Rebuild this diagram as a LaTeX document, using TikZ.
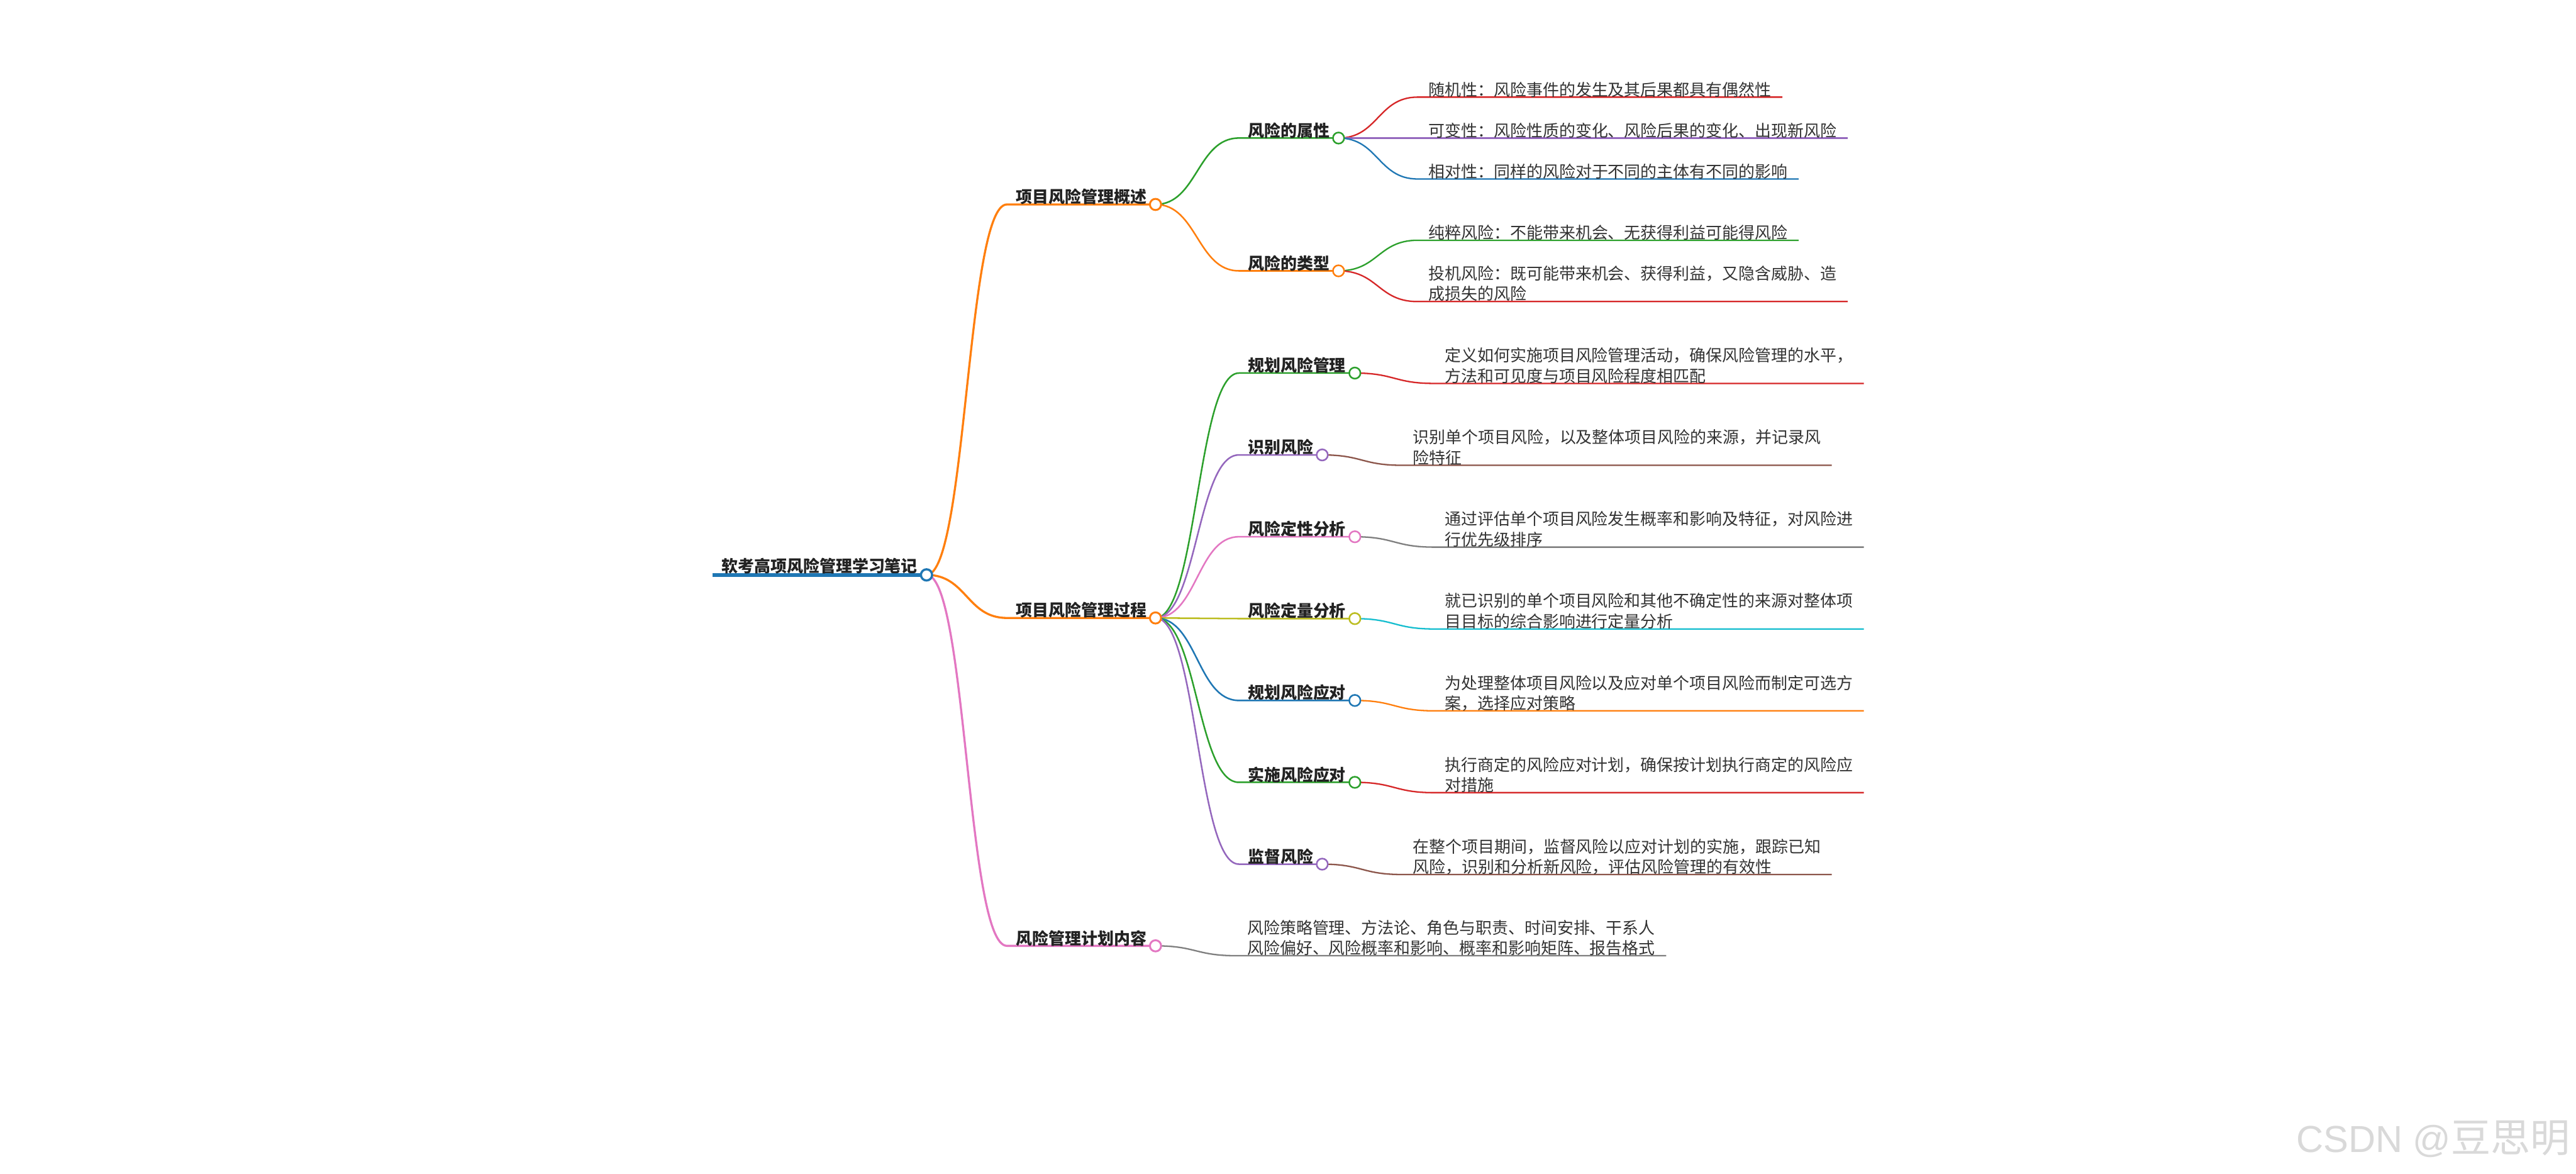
\documentclass[tikz,border=0pt]{standalone}
\usepackage{fontspec}
\setmainfont{Noto Sans CJK SC}
\newfontfamily\wmlat{Liberation Sans}
\usetikzlibrary{calc,backgrounds}
\definecolor{cBlue}{HTML}{1F77B4}
\definecolor{cOrange}{HTML}{FF7F0E}
\definecolor{cGreen}{HTML}{2CA02C}
\definecolor{cRed}{HTML}{D62728}
\definecolor{cPurple}{HTML}{9467BD}
\definecolor{cBrown}{HTML}{8C564B}
\definecolor{cPink}{HTML}{E377C2}
\definecolor{cGray}{HTML}{7F7F7F}
\definecolor{cOlive}{HTML}{BCBD22}
\definecolor{cCyan}{HTML}{17BECF}
\definecolor{cText}{HTML}{222222}
\definecolor{cLeaf}{HTML}{333333}
\newcommand\mmlabfont{\fontsize{11.3pt}{14.1pt}\selectfont\bfseries}
\newcommand\mmleaffont{\fontsize{11.3pt}{14.1pt}\selectfont}
\tikzset{
  mm/.style={to path={let \p1=(\tikztostart),\p2=(\tikztotarget) in
     .. controls ({(\x1+\x2)/2},\y1) and ({(\x1+\x2)/2},\y2) .. (\tikztotarget)}},
  lab/.style={anchor=base west, inner xsep=0.22cm, inner ysep=0pt, outer sep=0pt,
     font=\mmlabfont, text=cText},
  leaf/.style={anchor=base west, inner xsep=0.27cm, inner ysep=0pt, outer sep=0pt,
     align=left, font=\mmleaffont, text=cLeaf},
  dot/.style={circle, fill=white, inner sep=0pt, minimum size=0.272cm, line width=1.1pt},
  w0/.style={line width=2.8pt},
  w1/.style={line width=1.45pt},
  w2/.style={line width=1.1pt},
  w3/.style={line width=1pt},
}
\begin{document}
\begin{tikzpicture}[x=0.04cm,y=-0.04cm]
\useasboundingbox (0,0) rectangle (1568,714);

% ---------- root ----------
\coordinate (r-s) at (433.8,349.8);
\node[lab] (r) at (433.8,348.3) {软考高项风险管理学习笔记};
\node[dot, draw=cBlue, line width=1.5pt] (r-c) at (r-s -| r.east) {};

% ---------- level 1 ----------
\coordinate (a-s) at (612.9,124.4);
\node[lab] (a) at (612.9,123.5) {项目风险管理概述};
\node[dot, draw=cOrange, line width=1.3pt] (a-c) at (a-s -| a.east) {};

\coordinate (b-s) at (612.9,376.0);
\node[lab] (b) at (612.9,375.1) {项目风险管理过程};
\node[dot, draw=cOrange, line width=1.3pt] (b-c) at (b-s -| b.east) {};

\coordinate (c-s) at (612.9,575.5);
\node[lab] (c) at (612.9,574.6) {风险管理计划内容};
\node[dot, draw=cPink, line width=1.3pt] (c-c) at (c-s -| c.east) {};

% ---------- level 2 ----------
\coordinate (a1-s) at (754.1,84.0);
\node[lab] (a1) at (754.1,83.1) {风险的属性};
\node[dot, draw=cGreen] (a1-c) at (a1-s -| a1.east) {};

\coordinate (a2-s) at (754.1,164.8);
\node[lab] (a2) at (754.1,163.9) {风险的类型};
\node[dot, draw=cOrange] (a2-c) at (a2-s -| a2.east) {};

\coordinate (b1-s) at (754.1,227.0);
\node[lab] (b1) at (754.1,226.1) {规划风险管理};
\node[dot, draw=cGreen] (b1-c) at (b1-s -| b1.east) {};

\coordinate (b2-s) at (754.1,276.8);
\node[lab] (b2) at (754.1,275.9) {识别风险};
\node[dot, draw=cPurple] (b2-c) at (b2-s -| b2.east) {};

\coordinate (b3-s) at (754.1,326.6);
\node[lab] (b3) at (754.1,325.7) {风险定性分析};
\node[dot, draw=cPink] (b3-c) at (b3-s -| b3.east) {};

\coordinate (b4-s) at (754.1,376.4);
\node[lab] (b4) at (754.1,375.5) {风险定量分析};
\node[dot, draw=cOlive] (b4-c) at (b4-s -| b4.east) {};

\coordinate (b5-s) at (754.1,426.2);
\node[lab] (b5) at (754.1,425.3) {规划风险应对};
\node[dot, draw=cBlue] (b5-c) at (b5-s -| b5.east) {};

\coordinate (b6-s) at (754.1,476.0);
\node[lab] (b6) at (754.1,475.1) {实施风险应对};
\node[dot, draw=cGreen] (b6-c) at (b6-s -| b6.east) {};

\coordinate (b7-s) at (754.1,525.8);
\node[lab] (b7) at (754.1,524.9) {监督风险};
\node[dot, draw=cPurple] (b7-c) at (b7-s -| b7.east) {};

% ---------- leaves ----------
\coordinate (a1x-s) at (862.85,59.1);
\node[leaf] (a1x) at (862.85,58.2) {随机性：风险事件的发生及其后果都具有偶然性};
\coordinate (a1y-s) at (862.85,84.0);
\node[leaf] (a1y) at (862.85,83.1) {可变性：风险性质的变化、风险后果的变化、出现新风险};
\coordinate (a1z-s) at (862.85,108.9);
\node[leaf] (a1z) at (862.85,108.0) {相对性：同样的风险对于不同的主体有不同的影响};

\coordinate (a2x-s) at (862.85,146.2);
\node[leaf] (a2x) at (862.85,145.3) {纯粹风险：不能带来机会、无获得利益可能得风险};
\coordinate (a2y-s) at (862.85,183.5);
\node[leaf] (a2y) at (862.85,182.6) {投机风险：既可能带来机会、获得利益，又隐含威胁、造\\成损失的风险};

\coordinate (b1l-s) at (872.75,233.3);
\node[leaf] (b1l) at (872.75,232.4) {定义如何实施项目风险管理活动，确保风险管理的水平，\\方法和可见度与项目风险程度相匹配};
\coordinate (b2l-s) at (853.25,283.1);
\node[leaf] (b2l) at (853.25,282.2) {识别单个项目风险，以及整体项目风险的来源，并记录风\\险特征};
\coordinate (b3l-s) at (872.75,332.9);
\node[leaf] (b3l) at (872.75,332.0) {通过评估单个项目风险发生概率和影响及特征，对风险进\\行优先级排序};
\coordinate (b4l-s) at (872.75,382.7);
\node[leaf] (b4l) at (872.75,381.8) {就已识别的单个项目风险和其他不确定性的来源对整体项\\目目标的综合影响进行定量分析};
\coordinate (b5l-s) at (872.75,432.5);
\node[leaf] (b5l) at (872.75,431.6) {为处理整体项目风险以及应对单个项目风险而制定可选方\\案，选择应对策略};
\coordinate (b6l-s) at (872.75,482.3);
\node[leaf] (b6l) at (872.75,481.4) {执行商定的风险应对计划，确保按计划执行商定的风险应\\对措施};
\coordinate (b7l-s) at (853.25,532.1);
\node[leaf] (b7l) at (853.25,531.2) {在整个项目期间，监督风险以应对计划的实施，跟踪已知\\风险，识别和分析新风险，评估风险管理的有效性};

\coordinate (cl-s) at (752.45,581.5);
\node[leaf] (cl) at (752.45,580.6) {风险策略管理、方法论、角色与职责、时间安排、干系人\\风险偏好、风险概率和影响、概率和影响矩阵、报告格式};

% ---------- watermark ----------
\node[anchor=base east, inner sep=0pt, text=black!15] (wm) at (1564.7,701)
  {\fontsize{26pt}{30pt}\selectfont{\wmlat CSDN @}{\fontsize{27.5pt}{30pt}\selectfont 豆思明}};

% ---------- connectors (behind the nodes) ----------
\begin{pgfonlayer}{background}
\fill[white] (0,0) rectangle (1568,714);
\draw[w0, cBlue] (r-s) -- (r-c.center);

\draw[w1, cOrange] (r-c.center) to[mm] (a-s) -- (a-c.center);
\draw[w1, cOrange] (r-c.center) to[mm] (b-s) -- (b-c.center);
\draw[w1, cPink]   (r-c.center) to[mm] (c-s) -- (c-c.center);

\draw[w2, cGreen]  (a-c.center) to[mm] (a1-s) -- (a1-c.center);
\draw[w2, cOrange] (a-c.center) to[mm] (a2-s) -- (a2-c.center);

\draw[w2, cGreen]  (b-c.center) to[mm] (b1-s) -- (b1-c.center);
\draw[w2, cPurple] (b-c.center) to[mm] (b2-s) -- (b2-c.center);
\draw[w2, cPink]   (b-c.center) to[mm] (b3-s) -- (b3-c.center);
\draw[w2, cOlive]  (b-c.center) to[mm] (b4-s) -- (b4-c.center);
\draw[w2, cBlue]   (b-c.center) to[mm] (b5-s) -- (b5-c.center);
\draw[w2, cGreen]  (b-c.center) to[mm] (b6-s) -- (b6-c.center);
\draw[w2, cPurple] (b-c.center) to[mm] (b7-s) -- (b7-c.center);

\draw[w3, cRed]    (a1-c.center) to[mm] (a1x-s) -- (a1x-s -| a1x.east);
\draw[w3, cPurple] (a1-c.center) to[mm] (a1y-s) -- (a1y-s -| a1y.east);
\draw[w3, cBlue]   (a1-c.center) to[mm] (a1z-s) -- (a1z-s -| a1z.east);
\draw[w3, cGreen]  (a2-c.center) to[mm] (a2x-s) -- (a2x-s -| a2x.east);
\draw[w3, cRed]    (a2-c.center) to[mm] (a2y-s) -- (a2y-s -| a2y.east);

\draw[w3, cRed]    (b1-c.center) to[mm] (b1l-s) -- (b1l-s -| b1l.east);
\draw[w3, cBrown]  (b2-c.center) to[mm] (b2l-s) -- (b2l-s -| b2l.east);
\draw[w3, cGray]   (b3-c.center) to[mm] (b3l-s) -- (b3l-s -| b3l.east);
\draw[w3, cCyan]   (b4-c.center) to[mm] (b4l-s) -- (b4l-s -| b4l.east);
\draw[w3, cOrange] (b5-c.center) to[mm] (b5l-s) -- (b5l-s -| b5l.east);
\draw[w3, cRed]    (b6-c.center) to[mm] (b6l-s) -- (b6l-s -| b6l.east);
\draw[w3, cBrown]  (b7-c.center) to[mm] (b7l-s) -- (b7l-s -| b7l.east);

\draw[w3, cGray]   (c-c.center) to[mm] (cl-s) -- (cl-s -| cl.east);
\end{pgfonlayer}
\end{tikzpicture}
\end{document}
